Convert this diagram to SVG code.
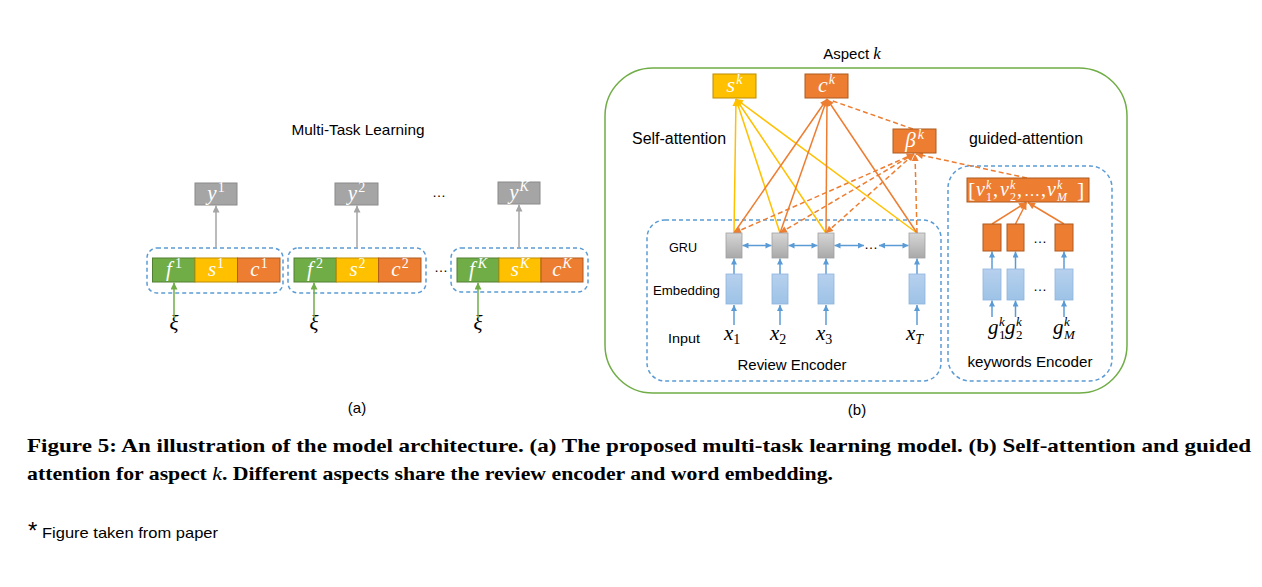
<svg xmlns="http://www.w3.org/2000/svg" width="1262" height="587" viewBox="0 0 1262 587">
<style>
.sans{font-family:"Liberation Sans",Arial,sans-serif;fill:#000}
.m{font-family:"Liberation Serif","Times New Roman",serif}
.it{font-style:italic}
.w{fill:#fff}
.sup{font-size:14px}
.dashB{fill:none;stroke:#5B9BD5;stroke-width:1.5;stroke-dasharray:4 3}
.gray{fill:#A5A5A5;stroke:#8A8A8A;stroke-width:1}
.grn{fill:#70AD47;stroke:#507E32;stroke-width:1}
.yel{fill:#FFC000;stroke:#BC8C00;stroke-width:1}
.org{fill:#ED7D31;stroke:#AE5A21;stroke-width:1}
.gru{fill:url(#gg);stroke:#A0A0A0;stroke-width:0.8}
.emb{fill:url(#bg);stroke:#8FB4DE;stroke-width:0.8}
.aB{stroke:#5B9BD5;stroke-width:1.5;fill:none}
.aY{stroke:#FFC000;stroke-width:1.5;fill:none}
.aO{stroke:#ED7D31;stroke-width:1.5;fill:none}
.aOd{stroke:#ED7D31;stroke-width:1.5;fill:none;stroke-dasharray:5 3}
</style>
<defs>
<linearGradient id="gg" x1="0" y1="0" x2="0" y2="1"><stop offset="0" stop-color="#D6D6D6"/><stop offset="1" stop-color="#A9A9A9"/></linearGradient>
<linearGradient id="bg" x1="0" y1="0" x2="0" y2="1"><stop offset="0" stop-color="#B7D0EE"/><stop offset="1" stop-color="#9DC3E6"/></linearGradient>
<marker id="mGr" viewBox="0 0 10 10" refX="10" refY="5" markerWidth="8" markerHeight="7" markerUnits="userSpaceOnUse" orient="auto-start-reverse"><path d="M0,0L10,5L0,10z" fill="#A5A5A5"/></marker>
<marker id="mGn" viewBox="0 0 10 10" refX="10" refY="5" markerWidth="8" markerHeight="7" markerUnits="userSpaceOnUse" orient="auto-start-reverse"><path d="M0,0L10,5L0,10z" fill="#70AD47"/></marker>
<marker id="mB" viewBox="0 0 10 10" refX="10" refY="5" markerWidth="7" markerHeight="6" markerUnits="userSpaceOnUse" orient="auto-start-reverse"><path d="M0,0L10,5L0,10z" fill="#5B9BD5"/></marker>
<marker id="mY" viewBox="0 0 10 10" refX="10" refY="5" markerWidth="8" markerHeight="7" markerUnits="userSpaceOnUse" orient="auto-start-reverse"><path d="M0,0L10,5L0,10z" fill="#FFC000"/></marker>
<marker id="mO" viewBox="0 0 10 10" refX="10" refY="5" markerWidth="8" markerHeight="7" markerUnits="userSpaceOnUse" orient="auto-start-reverse"><path d="M0,0L10,5L0,10z" fill="#ED7D31"/></marker>
</defs>
<rect width="1262" height="587" fill="#fff"/>

<!-- Panel (a) -->
<text class="sans" x="358" y="135" font-size="15" text-anchor="middle" textLength="133" lengthAdjust="spacingAndGlyphs">Multi-Task Learning</text>
<g id="grp1"><rect class="dashB" x="147" y="248" width="136" height="45" rx="10"/></g>
<g id="grp2"><rect class="dashB" x="288" y="248" width="138" height="45" rx="10"/></g>
<g id="grp3"><rect class="dashB" x="451" y="248" width="137" height="44" rx="10"/></g>
<g id="y1"><rect class="gray" x="195" y="183" width="42" height="22"/><text class="m w" x="216" y="200" text-anchor="middle" font-size="21"><tspan class="it">y</tspan><tspan class="sup" dx="1" dy="-8">1</tspan></text></g>
<g id="y2"><rect class="gray" x="335" y="183" width="43" height="22"/><text class="m w" x="356.5" y="200" text-anchor="middle" font-size="21"><tspan class="it">y</tspan><tspan class="sup" dx="1" dy="-8">2</tspan></text></g>
<g id="yK"><rect class="gray" x="498" y="182" width="42" height="22"/><text class="m w" x="519" y="199" text-anchor="middle" font-size="21"><tspan class="it">y</tspan><tspan class="it sup" dx="1" dy="-8">K</tspan></text></g>
<text class="sans" x="439" y="197" font-size="14" text-anchor="middle">…</text>
<text class="sans" x="441" y="272" font-size="14" text-anchor="middle">…</text>

<g id="f1"><rect class="grn" x="152.5" y="258" width="42.5" height="24"/><text class="m w" x="174" y="276" text-anchor="middle" font-size="21"><tspan class="it">f</tspan><tspan class="sup" dx="3" dy="-8">1</tspan></text></g>
<g id="s1"><rect class="yel" x="195" y="258" width="42.5" height="24"/><text class="m w" x="216" y="276" text-anchor="middle" font-size="21"><tspan class="it">s</tspan><tspan class="sup" dx="1" dy="-8">1</tspan></text></g>
<g id="c1"><rect class="org" x="237.5" y="258" width="42.5" height="24"/><text class="m w" x="259" y="276" text-anchor="middle" font-size="21"><tspan class="it">c</tspan><tspan class="sup" dx="1" dy="-8">1</tspan></text></g>
<g id="f2"><rect class="grn" x="294" y="258" width="42.3" height="24"/><text class="m w" x="315" y="276" text-anchor="middle" font-size="21"><tspan class="it">f</tspan><tspan class="sup" dx="3" dy="-8">2</tspan></text></g>
<g id="s2"><rect class="yel" x="336.3" y="258" width="42.3" height="24"/><text class="m w" x="357.5" y="276" text-anchor="middle" font-size="21"><tspan class="it">s</tspan><tspan class="sup" dx="1" dy="-8">2</tspan></text></g>
<g id="c2"><rect class="org" x="378.6" y="258" width="42.4" height="24"/><text class="m w" x="400" y="276" text-anchor="middle" font-size="21"><tspan class="it">c</tspan><tspan class="sup" dx="1" dy="-8">2</tspan></text></g>
<g id="fK"><rect class="grn" x="457" y="258" width="42" height="24"/><text class="m w" x="478" y="276" text-anchor="middle" font-size="21"><tspan class="it">f</tspan><tspan class="it sup" dx="3" dy="-8">K</tspan></text></g>
<g id="sK"><rect class="yel" x="499" y="258" width="42" height="24"/><text class="m w" x="520" y="276" text-anchor="middle" font-size="21"><tspan class="it">s</tspan><tspan class="it sup" dx="1" dy="-8">K</tspan></text></g>
<g id="cK"><rect class="org" x="541" y="258" width="42" height="24"/><text class="m w" x="562" y="276" text-anchor="middle" font-size="21"><tspan class="it">c</tspan><tspan class="it sup" dx="1" dy="-8">K</tspan></text></g>

<g id="xi1"><text class="m it" x="174" y="330" font-size="21" text-anchor="middle">ξ</text></g>
<g id="xi2"><text class="m it" x="314" y="330" font-size="21" text-anchor="middle">ξ</text></g>
<g id="xi3"><text class="m it" x="478" y="330" font-size="21" text-anchor="middle">ξ</text></g>
<text class="sans" x="357" y="413" font-size="15" text-anchor="middle">(a)</text>

<g id="connectors-a">
<line x1="216" y1="248" x2="216" y2="205.5" stroke="#A5A5A5" stroke-width="1.5" marker-end="url(#mGr)"/>
<line x1="357" y1="248" x2="357" y2="205.5" stroke="#A5A5A5" stroke-width="1.5" marker-end="url(#mGr)"/>
<line x1="519" y1="248" x2="519" y2="204.5" stroke="#A5A5A5" stroke-width="1.5" marker-end="url(#mGr)"/>
<line x1="174" y1="318" x2="174" y2="282.5" stroke="#70AD47" stroke-width="1.5" marker-end="url(#mGn)"/>
<line x1="314" y1="318" x2="314" y2="282.5" stroke="#70AD47" stroke-width="1.5" marker-end="url(#mGn)"/>
<line x1="478" y1="318" x2="478" y2="282.5" stroke="#70AD47" stroke-width="1.5" marker-end="url(#mGn)"/>
</g>

<!-- Panel (b) -->
<text class="sans" x="852" y="59" font-size="15" text-anchor="middle">Aspect <tspan class="m it" font-size="17">k</tspan></text>
<g id="aspect"><rect x="605" y="68" width="522" height="325" rx="48" fill="none" stroke="#70AD47" stroke-width="1.5"/></g>
<g id="reviewEnc"><rect class="dashB" x="647" y="220" width="294" height="161" rx="18"/>
<text class="sans" x="792" y="370" font-size="15" text-anchor="middle" textLength="109" lengthAdjust="spacingAndGlyphs">Review Encoder</text></g>
<g id="kwEnc"><rect class="dashB" x="948" y="166" width="164" height="215" rx="22"/>
<text class="sans" x="1030" y="367" font-size="15" text-anchor="middle" textLength="125" lengthAdjust="spacingAndGlyphs">keywords Encoder</text></g>

<text class="sans" x="632" y="144" font-size="16" textLength="94" lengthAdjust="spacingAndGlyphs">Self-attention</text>
<text class="sans" x="969" y="144" font-size="16" textLength="114" lengthAdjust="spacingAndGlyphs">guided-attention</text>
<text class="sans" x="669" y="252" font-size="13" textLength="28" lengthAdjust="spacingAndGlyphs">GRU</text>
<text class="sans" x="653" y="295" font-size="13" textLength="67" lengthAdjust="spacingAndGlyphs">Embedding</text>
<text class="sans" x="668" y="343" font-size="13" textLength="32" lengthAdjust="spacingAndGlyphs">Input</text>

<g id="connectors-b">
<line class="aY" x1="734" y1="233" x2="736" y2="99" marker-end="url(#mY)"/>
<line class="aY" x1="780" y1="233" x2="736" y2="99" marker-end="url(#mY)"/>
<line class="aY" x1="826" y1="233" x2="736" y2="99" marker-end="url(#mY)"/>
<line class="aY" x1="917" y1="233" x2="736" y2="99" marker-end="url(#mY)"/>
<line class="aO" x1="734" y1="233" x2="827" y2="99" marker-end="url(#mO)"/>
<line class="aO" x1="780" y1="233" x2="827" y2="99" marker-end="url(#mO)"/>
<line class="aO" x1="826" y1="233" x2="827" y2="99" marker-end="url(#mO)"/>
<line class="aO" x1="917" y1="233" x2="827" y2="99" marker-end="url(#mO)"/>
<line class="aOd" x1="734" y1="233" x2="914" y2="154" marker-start="url(#mO)" marker-end="url(#mO)"/>
<line class="aOd" x1="780" y1="233" x2="914" y2="154" marker-start="url(#mO)" marker-end="url(#mO)"/>
<line class="aOd" x1="826" y1="233" x2="914" y2="154" marker-start="url(#mO)" marker-end="url(#mO)"/>
<line class="aOd" x1="917" y1="233" x2="915" y2="154" marker-end="url(#mO)"/>
<line class="aOd" x1="913" y1="129" x2="830" y2="100"/>
<line class="aOd" x1="1027" y1="178" x2="916" y2="154" marker-end="url(#mO)"/>
<line class="aB" x1="734" y1="325" x2="734" y2="305" marker-end="url(#mB)"/>
<line class="aB" x1="780" y1="325" x2="780" y2="305" marker-end="url(#mB)"/>
<line class="aB" x1="826" y1="325" x2="826" y2="305" marker-end="url(#mB)"/>
<line class="aB" x1="917" y1="325" x2="917" y2="305" marker-end="url(#mB)"/>
<line class="aB" x1="734" y1="274" x2="734" y2="258.5" marker-end="url(#mB)"/>
<line class="aB" x1="780" y1="274" x2="780" y2="258.5" marker-end="url(#mB)"/>
<line class="aB" x1="826" y1="274" x2="826" y2="258.5" marker-end="url(#mB)"/>
<line class="aB" x1="917" y1="274" x2="917" y2="258.5" marker-end="url(#mB)"/>
<line class="aB" x1="742.5" y1="245.5" x2="771.5" y2="245.5" marker-start="url(#mB)" marker-end="url(#mB)"/>
<line class="aB" x1="788.5" y1="245.5" x2="817.5" y2="245.5" marker-start="url(#mB)" marker-end="url(#mB)"/>
<line class="aB" x1="834.5" y1="245.5" x2="864" y2="245.5" marker-start="url(#mB)" marker-end="url(#mB)"/>
<line class="aB" x1="879" y1="245.5" x2="908.5" y2="245.5" marker-start="url(#mB)" marker-end="url(#mB)"/>
<line class="aB" x1="992" y1="317" x2="992" y2="300.5" marker-end="url(#mB)"/>
<line class="aB" x1="1015.5" y1="317" x2="1015.5" y2="300.5" marker-end="url(#mB)"/>
<line class="aB" x1="1064" y1="317" x2="1064" y2="300.5" marker-end="url(#mB)"/>
<line class="aB" x1="992" y1="269" x2="992" y2="251.5" marker-end="url(#mB)"/>
<line class="aB" x1="1015.5" y1="269" x2="1015.5" y2="251.5" marker-end="url(#mB)"/>
<line class="aB" x1="1064" y1="269" x2="1064" y2="251.5" marker-end="url(#mB)"/>
<line class="aO" x1="992" y1="224" x2="1026" y2="202.5" marker-end="url(#mO)"/>
<line class="aO" x1="1015.5" y1="224" x2="1026.5" y2="202.5" marker-end="url(#mO)"/>
<line class="aO" x1="1064" y1="224" x2="1028" y2="202.5" marker-end="url(#mO)"/>
</g>
<text class="sans" x="871" y="249" font-size="14" text-anchor="middle">…</text>

<g id="sk"><rect class="yel" x="713" y="74" width="43" height="24"/><text class="m w" x="734.5" y="92" text-anchor="middle" font-size="22"><tspan class="it">s</tspan><tspan class="it sup" dx="1" dy="-8">k</tspan></text></g>
<g id="ck"><rect class="org" x="805" y="74" width="43" height="24"/><text class="m w" x="826.5" y="92" text-anchor="middle" font-size="22"><tspan class="it">c</tspan><tspan class="it sup" dx="1" dy="-8">k</tspan></text></g>
<g id="betak"><rect class="org" x="893" y="129" width="43" height="24"/><text class="m w" x="914.5" y="147" text-anchor="middle" font-size="21"><tspan class="it">β</tspan><tspan class="it sup" dx="2" dy="-8">k</tspan></text></g>

<g id="gru1"><rect class="gru" x="726" y="233" width="16" height="25"/></g>
<g id="gru2"><rect class="gru" x="772" y="233" width="16" height="25"/></g>
<g id="gru3"><rect class="gru" x="818" y="233" width="16" height="25"/></g>
<g id="gru4"><rect class="gru" x="909" y="233" width="16" height="25"/></g>
<g id="emb1"><rect class="emb" x="726" y="274" width="16" height="30"/></g>
<g id="emb2"><rect class="emb" x="772" y="274" width="16" height="30"/></g>
<g id="emb3"><rect class="emb" x="818" y="274" width="16" height="30"/></g>
<g id="emb4"><rect class="emb" x="909" y="274" width="16" height="30"/></g>
<g id="x1"><text class="m" x="724" y="340" font-size="21"><tspan class="it">x</tspan><tspan font-size="14" dy="4">1</tspan></text></g>
<g id="x2"><text class="m" x="770" y="340" font-size="21"><tspan class="it">x</tspan><tspan font-size="14" dy="4">2</tspan></text></g>
<g id="x3"><text class="m" x="816" y="340" font-size="21"><tspan class="it">x</tspan><tspan font-size="14" dy="4">3</tspan></text></g>
<g id="xT"><text class="m" x="906" y="340" font-size="21"><tspan class="it">x</tspan><tspan class="it" font-size="14" dy="4">T</tspan></text></g>

<g id="vk"><rect class="org" x="967" y="178" width="122" height="24"/>
<g class="m w" font-size="20">
<text x="968" y="197" font-size="22">[</text>
<text class="it" x="976" y="196">v</text><text class="it" x="986" y="189" font-size="12">k</text><text x="986" y="201" font-size="12">1</text>
<text x="993" y="196">,</text>
<text class="it" x="1000" y="196">v</text><text class="it" x="1010" y="189" font-size="12">k</text><text x="1010" y="201" font-size="12">2</text>
<text x="1017" y="196">,</text>
<text x="1024" y="196" font-size="16">…</text>
<text x="1041" y="196">,</text>
<text class="it" x="1047" y="196">v</text><text class="it" x="1057" y="189" font-size="12">k</text><text class="it" x="1057" y="201" font-size="12">M</text>
<text x="1077" y="197" font-size="22">]</text>
</g></g>
<g id="kh1"><rect class="org" x="983" y="224" width="18" height="27"/></g>
<g id="kh2"><rect class="org" x="1007" y="224" width="17" height="27"/></g>
<g id="kh3"><rect class="org" x="1055" y="224" width="18" height="27"/></g>
<g id="ke1"><rect class="emb" x="983" y="269" width="18" height="31"/></g>
<g id="ke2"><rect class="emb" x="1007" y="269" width="17" height="31"/></g>
<g id="ke3"><rect class="emb" x="1055" y="269" width="18" height="31"/></g>
<text class="sans" x="1040" y="243" font-size="14" text-anchor="middle">…</text>
<text class="sans" x="1040" y="291" font-size="14" text-anchor="middle">…</text>
<g id="g1" class="m"><text class="it" x="988" y="334" font-size="21">g</text><text class="it" x="999" y="326" font-size="13">k</text><text x="999" y="339" font-size="13">1</text></g>
<g id="g2" class="m"><text class="it" x="1005" y="334" font-size="21">g</text><text class="it" x="1016" y="326" font-size="13">k</text><text x="1016" y="339" font-size="13">2</text></g>
<g id="gM" class="m"><text class="it" x="1053" y="334" font-size="21">g</text><text class="it" x="1064" y="326" font-size="13">k</text><text class="it" x="1064" y="339" font-size="13">M</text></g>
<text class="sans" x="857" y="415" font-size="15" text-anchor="middle">(b)</text>

<!-- caption -->
<text class="m" x="27" y="452" font-size="19" font-weight="bold" textLength="1224" lengthAdjust="spacingAndGlyphs">Figure 5: An illustration of the model architecture. (a) The proposed multi-task learning model. (b) Self-attention and guided</text>
<text class="m" x="27" y="480" font-size="19" font-weight="bold" textLength="806" lengthAdjust="spacingAndGlyphs">attention for aspect <tspan font-style="italic" font-weight="normal">k</tspan>. Different aspects share the review encoder and word embedding.</text>
<text class="sans" x="28" y="539" font-size="24">*</text>
<text class="sans" x="42" y="538" font-size="15" textLength="176" lengthAdjust="spacingAndGlyphs">Figure taken from paper</text>
</svg>
